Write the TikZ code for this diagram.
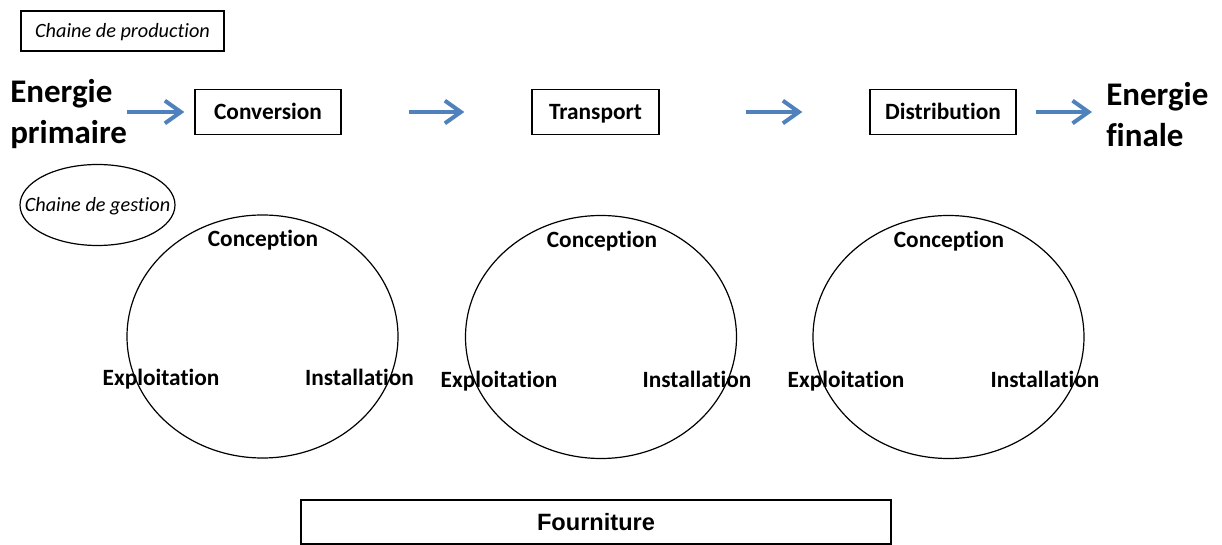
\documentclass[tikz,border=0pt]{standalone}
\usepackage{fontspec}
\setmainfont{Carlito}[Ligatures=NoCommon]
\newfontfamily\arialfont{Liberation Sans}
\usepackage{xcolor}
\usepackage{tikz}
\usetikzlibrary{shapes.geometric,arrows.meta}

\definecolor{flechebleu}{RGB}{79,129,189}

\tikzset{
  etiquette/.style={font=\fontsize{15.2}{18}\selectfont\itshape, inner sep=0pt,
    text height=12pt, text depth=1.5pt},
  energie/.style={font=\fontsize{24.75}{30.75}\selectfont\bfseries, align=left, inner sep=0pt},
  etape/.style={draw, line width=1pt, minimum height=33.75pt, inner sep=0pt,
    text height=13.5pt, text depth=2pt, font=\fontsize{17.5}{20}\selectfont\bfseries},
  cycle/.style={draw, ellipse, line width=0.9pt, minimum width=203.25pt,
    minimum height=182.25pt, inner sep=0pt},
  phase/.style={font=\fontsize{17.5}{20}\selectfont\bfseries, inner sep=0pt,
    text height=13.5pt, text depth=2pt},
  fleche/.style={draw=flechebleu, line width=3pt,
    -{Straight Barb[length=12pt,width=17pt,line width=3pt]}}
}

\begin{document}
\begin{tikzpicture}[x=0.75pt, y={(0pt,-0.75pt)}]
                \useasboundingbox (0,0) rectangle (1222,545);
                \node[draw, line width=1pt, minimum width=152.25pt, minimum height=30pt, etiquette] (prod) at (122.5,31) {Chaine de production};
                \node[etiquette] (gest) at (97.5,205) {Chaine de gestion};
                \draw[line width=0.9pt] (gest.center) ellipse [x radius=77.5, y radius=40.5];
                \node[energie, anchor=west] (prim) at (10,114) {Energie\\primaire};
                \node[energie, anchor=west] (fin) at (1106,115) {Energie\\finale};
                \node[etape, minimum width=109.5pt] (conv) at (268,112) {Conversion};
                \node[etape, minimum width=95.25pt] (trans) at (595.5,112) {Transport};
                \node[etape, minimum width=109.5pt] (dist) at (943,112) {Distribution};
                \draw[fleche, shorten >=7.5pt] (prim.east |- conv) -- (conv);
                \draw[fleche, shorten <=50.25pt, shorten >=50.25pt] (conv) -- (trans);
                \draw[fleche, shorten <=64.5pt, shorten >=50.25pt] (trans) -- (dist);
                \draw[fleche, shorten <=14.25pt, shorten >=10.5pt] (dist) -- (fin.west |- dist);
                \node[cycle] (cycA) at (262.5,336.5) {};
                \node[phase] (concA) at (263,239) {Conception};
                \node[phase] (explA) at (161,378) {Exploitation};
                \node[phase] (instA) at (359.5,378) {Installation};
                \node[cycle] (cycB) at (601,337) {};
                \node[phase] (concB) at (602,240) {Conception};
                \node[phase] (explB) at (499,380) {Exploitation};
                \node[phase] (instB) at (697,380) {Installation};
                \node[cycle] (cycC) at (948.5,337) {};
                \node[phase] (concC) at (949,240) {Conception};
                \node[phase] (explC) at (846,380) {Exploitation};
                \node[phase] (instC) at (1045,380) {Installation};
                \node[draw, line width=1pt, minimum width=442.5pt, minimum height=33pt, inner sep=0pt,
                  font=\arialfont\fontsize{17.7}{20}\selectfont\bfseries] (four) at (596,522) {Fourniture};
            \end{tikzpicture}
\end{document}
